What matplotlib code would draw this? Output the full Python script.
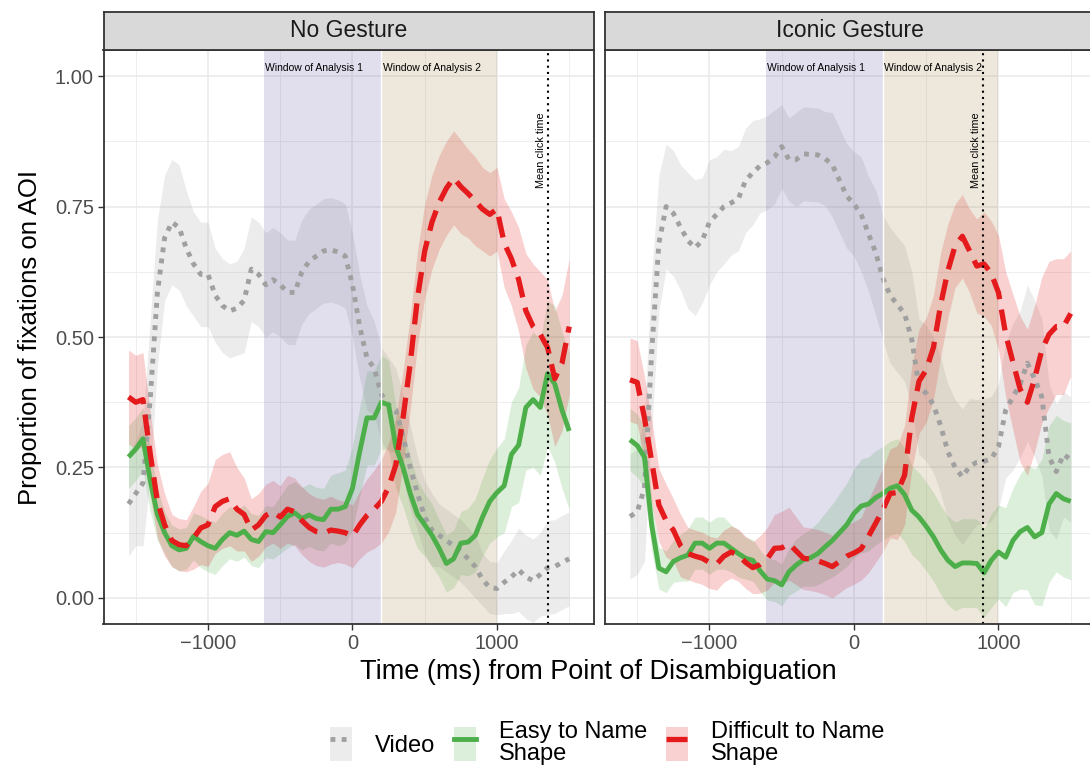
import matplotlib

matplotlib.use("Agg")
import matplotlib.pyplot as plt  # noqa: E402
import numpy as np  # noqa: E402
from matplotlib.lines import Line2D  # noqa: E402
from matplotlib.patches import Patch  # noqa: E402

plt.rcParams["font.family"] = ["Liberation Sans", "DejaVu Sans"]

# time bins (ms from point of disambiguation), 50 ms steps
time = list(range(-1550, 1501, 50))

panels = ["No Gesture", "Iconic Gesture"]
click_times = [1350, 890]
window1 = (-610, 200)
window2 = (200, 1000)

# --- No Gesture ---------------------------------------------------------
ng_video = [0.18, 0.20, 0.22, 0.38, 0.585, 0.69, 0.72, 0.71, 0.67, 0.64,
            0.62, 0.62, 0.58, 0.56, 0.55, 0.555, 0.57, 0.63, 0.62, 0.60,
            0.61, 0.60, 0.586, 0.585, 0.625, 0.645, 0.655, 0.665, 0.667, 0.663,
            0.655, 0.60, 0.52, 0.46, 0.44, 0.39, 0.37, 0.36, 0.31, 0.25,
            0.20, 0.155, 0.13, 0.12, 0.11, 0.10, 0.09, 0.075, 0.06, 0.035,
            0.02, 0.018, 0.03, 0.04, 0.054, 0.04, 0.033, 0.045, 0.058, 0.06,
            0.068, 0.075]
ng_video_se = [.10, .10, .12, .15, .14, .12, .12, .12, .11, .10,
               .10, .10, .09, .09, .09, .09, .10, .10, .10, .10,
               .10, .10, .10, .10, .10, .10, .10, .10, .10, .10,
               .10, .10, .10, .10, .09, .09, .09, .08, .08, .08,
               .07, .07, .07, .06, .06, .06, .06, .06, .06, .05,
               .05, .05, .06, .07, .08, .08, .08, .08, .09, .09,
               .09, .09]
ng_easy = [0.27, 0.285, 0.305, 0.226, 0.16, 0.125, 0.10, 0.092, 0.095, 0.118,
           0.108, 0.10, 0.095, 0.112, 0.125, 0.12, 0.128, 0.112, 0.108, 0.127,
           0.125, 0.14, 0.156, 0.163, 0.152, 0.159, 0.152, 0.15, 0.17, 0.17,
           0.175, 0.21, 0.28, 0.345, 0.345, 0.375, 0.37, 0.29, 0.25, 0.20,
           0.16, 0.14, 0.12, 0.095, 0.066, 0.075, 0.105, 0.107, 0.12, 0.155,
           0.185, 0.202, 0.215, 0.275, 0.293, 0.365, 0.38, 0.365, 0.43, 0.41,
           0.36, 0.32]
ng_easy_se = [.06, .06, .06, .06, .05, .04, .04, .04, .04, .045,
              .05, .05, .05, .05, .05, .05, .05, .05, .05, .05,
              .05, .055, .06, .06, .06, .06, .06, .06, .065, .07,
              .07, .08, .085, .09, .09, .09, .085, .08, .075, .07,
              .065, .06, .06, .055, .055, .055, .06, .065, .07, .075,
              .08, .085, .09, .10, .11, .12, .13, .13, .14, .15,
              .15, .15]
ng_diff = [0.385, 0.375, 0.38, 0.277, 0.185, 0.14, 0.11, 0.102, 0.10, 0.115,
           0.134, 0.14, 0.175, 0.185, 0.19, 0.17, 0.16, 0.13, 0.14, 0.158,
           0.165, 0.155, 0.17, 0.165, 0.148, 0.135, 0.127, 0.124, 0.13, 0.128,
           0.125, 0.118, 0.14, 0.158, 0.17, 0.185, 0.212, 0.255, 0.345, 0.45,
           0.575, 0.665, 0.72, 0.758, 0.785, 0.805, 0.788, 0.775, 0.76, 0.745,
           0.735, 0.745, 0.68, 0.65, 0.61, 0.55, 0.52, 0.505, 0.48, 0.42,
           0.45, 0.52]
ng_diff_se = [.09, .09, .09, .08, .07, .06, .05, .05, .05, .06,
              .07, .08, .09, .09, .09, .08, .07, .06, .06, .06,
              .06, .06, .065, .065, .065, .065, .065, .065, .065, .06,
              .06, .06, .065, .07, .075, .08, .085, .09, .09, .09,
              .09, .09, .09, .09, .09, .09, .09, .085, .085, .08,
              .08, .08, .085, .09, .10, .11, .12, .12, .13, .13,
              .13, .13]

# --- Iconic Gesture -----------------------------------------------------
ig_video = [0.156, 0.165, 0.21, 0.47, 0.68, 0.75, 0.737, 0.71, 0.685, 0.671,
            0.685, 0.72, 0.735, 0.75, 0.757, 0.765, 0.80, 0.815, 0.828, 0.834,
            0.845, 0.865, 0.84, 0.84, 0.851, 0.85, 0.849, 0.842, 0.83, 0.80,
            0.77, 0.755, 0.735, 0.698, 0.662, 0.613, 0.58, 0.562, 0.545, 0.495,
            0.405, 0.392, 0.37, 0.33, 0.28, 0.25, 0.232, 0.252, 0.26, 0.262,
            0.266, 0.29, 0.36, 0.385, 0.41, 0.45, 0.42, 0.385, 0.27, 0.242,
            0.275, 0.265]
ig_video_se = [.12, .12, .14, .15, .13, .12, .12, .12, .13, .13,
               .12, .12, .11, .11, .10, .10, .10, .10, .09, .09,
               .09, .08, .08, .09, .09, .09, .09, .09, .10, .10,
               .10, .10, .11, .11, .12, .12, .13, .13, .13, .13,
               .13, .13, .13, .13, .13, .13, .13, .13, .12, .12,
               .12, .12, .13, .14, .14, .15, .15, .15, .14, .13,
               .12, .12]
ig_easy = [0.303, 0.292, 0.27, 0.14, 0.057, 0.05, 0.07, 0.077, 0.082, 0.105,
           0.105, 0.095, 0.105, 0.105, 0.095, 0.085, 0.076, 0.072, 0.052, 0.036,
           0.033, 0.025, 0.05, 0.063, 0.073, 0.077, 0.085, 0.098, 0.11, 0.125,
           0.14, 0.162, 0.176, 0.18, 0.192, 0.20, 0.21, 0.215, 0.198, 0.168,
           0.155, 0.137, 0.117, 0.092, 0.072, 0.06, 0.067, 0.067, 0.066, 0.048,
           0.072, 0.088, 0.078, 0.11, 0.127, 0.135, 0.117, 0.125, 0.18, 0.20,
           0.19, 0.185]
ig_easy_se = [.06, .06, .06, .05, .04, .04, .04, .045, .05, .05,
              .05, .05, .05, .05, .045, .045, .04, .04, .04, .04,
              .04, .04, .045, .05, .05, .055, .06, .065, .07, .075,
              .08, .085, .09, .09, .09, .09, .09, .09, .09, .085,
              .085, .085, .085, .085, .085, .085, .085, .085, .085, .085,
              .09, .09, .095, .10, .11, .12, .13, .14, .15, .15,
              .15, .15]
ig_diff = [0.418, 0.413, 0.345, 0.262, 0.178, 0.148, 0.13, 0.10, 0.085, 0.08,
           0.076, 0.068, 0.065, 0.08, 0.088, 0.082, 0.068, 0.058, 0.064, 0.075,
           0.095, 0.096, 0.104, 0.09, 0.076, 0.074, 0.071, 0.066, 0.06, 0.07,
           0.08, 0.086, 0.094, 0.118, 0.143, 0.169, 0.20, 0.202, 0.235, 0.345,
           0.415, 0.437, 0.48, 0.562, 0.627, 0.675, 0.693, 0.665, 0.636, 0.64,
           0.622, 0.585, 0.505, 0.452, 0.40, 0.375, 0.42, 0.475, 0.505, 0.52,
           0.52, 0.545]
ig_diff_se = [.08, .08, .08, .08, .07, .07, .06, .06, .05, .05,
              .05, .05, .05, .05, .05, .05, .05, .05, .055, .06,
              .065, .07, .07, .065, .06, .06, .06, .06, .06, .06,
              .06, .06, .06, .07, .075, .08, .085, .09, .095, .10,
              .10, .10, .10, .10, .09, .08, .08, .08, .09, .10,
              .10, .11, .12, .13, .14, .14, .14, .14, .14, .13,
              .13, .12]

series_names = ["Video", "Easy to Name\nShape", "Difficult to Name\nShape"]
colors = ["#A0A0A0", "#4DAF4A", "#E41A1C"]
styles = [(0, (1, 1.3)), "-", (0, (4, 2))]
widths = [3.5, 3.5, 3.8]

panel_data = [
    [(ng_video, ng_video_se), (ng_easy, ng_easy_se), (ng_diff, ng_diff_se)],
    [(ig_video, ig_video_se), (ig_easy, ig_easy_se), (ig_diff, ig_diff_se)],
]

W, H = 1090, 767
fig = plt.figure(figsize=(W / 100, H / 100), dpi=100)


def px_axes(x0, y0, w, h):
    return fig.add_axes([x0 / W, 1 - (y0 + h) / H, w / W, h / H])


t = np.array(time)
lefts = [103.5, 605]
for i, name in enumerate(panels):
    ax = px_axes(lefts[i], 50, 490, 574)
    ax.set_xlim(-1723, 1668)
    ax.set_ylim(-0.05, 1.05)
    ax.set_xticks([-1000, 0, 1000])
    ax.set_xticklabels(["\u22121000", "0", "1000"])
    ax.set_xticks([-1500, -500, 500, 1500], minor=True)
    ax.set_yticks([0, 0.25, 0.5, 0.75, 1.0])
    ax.set_yticklabels(["0.00", "0.25", "0.50", "0.75", "1.00"])
    ax.set_yticks([0.125, 0.375, 0.625, 0.875], minor=True)
    ax.grid(which="major", color="#EBEBEB", lw=1.2)
    ax.grid(which="minor", color="#EBEBEB", lw=0.6)
    ax.set_axisbelow(True)
    ax.tick_params(which="minor", length=0)
    ax.tick_params(which="major", length=4, width=1.0, color="#333333",
                   labelsize=14.5, labelcolor="#4D4D4D", pad=3)
    if i == 1:
        ax.tick_params(axis="y", left=False, labelleft=False)
    for sp in ax.spines.values():
        sp.set_color("#333333")
        sp.set_linewidth(1.3)

    # lines first, ribbons on top (as in the original)
    for (vals, se), c, ls, lw in zip(panel_data[i], colors, styles, widths):
        ax.plot(t, vals, color=c, ls=ls, lw=lw, dash_capstyle="butt",
                solid_capstyle="butt")
    for (vals, se), c in zip(panel_data[i], colors):
        v = np.array(vals)
        s = np.array(se)
        ax.fill_between(t, v - s, v + s, color=c, alpha=0.2, lw=0)

    ax.axvspan(*window1, color="#695FAA", alpha=0.2, lw=0)
    ax.axvspan(*window2, color="#AA8C50", alpha=0.2, lw=0)
    ax.axvline(window1[1], color="white", lw=1)
    ax.text(window1[0] + 5, 1.015, "Window of Analysis 1", ha="left",
            va="center", fontsize=7.5)
    ax.text(window2[0] + 10, 1.015, "Window of Analysis 2", ha="left",
            va="center", fontsize=7.5)

    ax.axvline(click_times[i], color="black", ls=(0, (1, 2)), lw=1.5)
    ax.text(click_times[i] - 12, 0.93, "Mean click time", rotation=90,
            ha="right", va="top", fontsize=7.8)

    # facet strip
    st = px_axes(lefts[i], 11.7, 490, 38.3)
    st.set_facecolor("#D9D9D9")
    st.set_xticks([])
    st.set_yticks([])
    for sp in st.spines.values():
        sp.set_color("#333333")
        sp.set_linewidth(1.3)
    st.text(0.5, 0.5, name, ha="center", va="center", fontsize=16.5,
            color="#1A1A1A", transform=st.transAxes)

fig.text(30 / W, 1 - 337 / H, "Proportion of fixations on AOI", rotation=90,
         ha="center", va="center", fontsize=18.5)
fig.text(598 / W, 1 - 672 / H, "Time (ms) from Point of Disambiguation",
         ha="center", va="center", fontsize=19.5)

handles = []
for c, ls, lw in zip(colors, styles, widths):
    handles.append((Patch(facecolor=c, alpha=0.2, lw=0),
                    Line2D([], [], color=c, ls=ls, lw=lw,
                           dash_capstyle="butt")))
leg = fig.legend(handles, series_names, loc="center", ncol=3,
                 bbox_to_anchor=(607 / W, 1 - 743 / H), frameon=False,
                 fontsize=17, handlelength=0.95, handleheight=1.8,
                 handletextpad=0.95, columnspacing=0.8, borderpad=0)
for txt in leg.get_texts():
    txt.set_linespacing(0.95)

fig.savefig("out.png", dpi=100)
